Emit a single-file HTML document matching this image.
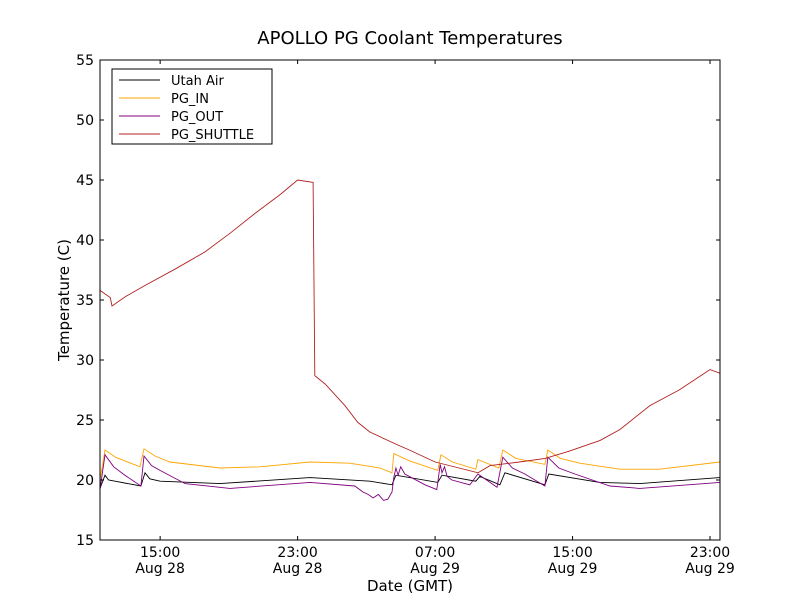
<!DOCTYPE html>
<html><head><meta charset="utf-8"><style>
body{margin:0;background:#fff;}
svg text{font-family:"DejaVu Sans","Liberation Sans",sans-serif;fill:#000;}
</style></head><body>
<svg id="chart" width="800" height="600" viewBox="0 0 800 600">
<rect width="800" height="600" fill="#fff"/>
<text x="410" y="44" font-size="18" text-anchor="middle">APOLLO PG Coolant Temperatures</text>
<g id="plot"></g>
<g id="axes"></g>
<text x="410" y="591" font-size="15" text-anchor="middle">Date (GMT)</text>
<text transform="translate(69,300) rotate(-90)" font-size="15" text-anchor="middle">Temperature (C)</text>
<g id="legend"></g>
</svg>
<script>
const seriesNames=["Utah Air","PG_IN","PG_OUT","PG_SHUTTLE"];
const seriesColors=["#000000","#ffa500","#800080","#b22222"];
const yTicks=[15,20,25,30,35,40,45,50,55];
const xTickHours=[15,23,31,39,47];
const xTickTimes=["15:00","23:00","07:00","15:00","23:00"];
const xTickDates=["Aug 28","Aug 28","Aug 29","Aug 29","Aug 29"];
const airT=[11.5,11.79,12.0,12.37,13.88,14.12,14.4,15.0,18.48,23.72,27.21,28.49,28.72,31.16,31.4,33.37,33.6,34.77,35.06,37.39,37.62,40.59,42.91,47.57];
const airV=[19.3,20.4,20.0,19.9,19.5,20.6,20.1,19.9,19.7,20.2,19.9,19.6,20.4,19.8,20.4,19.9,20.3,19.6,20.6,19.6,20.5,19.8,19.7,20.2];
const inT=[11.5,11.79,12.4,13.83,14.06,14.7,15.57,18.48,20.81,23.72,26.04,27.79,28.49,28.6,29.5,31.16,31.34,32.0,33.37,33.49,34.71,34.94,35.7,37.39,37.56,38.3,39.42,41.75,44.08,47.57];
const inV=[20.0,22.5,21.9,21.1,22.6,22.0,21.5,21.0,21.1,21.5,21.4,21.0,20.6,22.2,21.6,20.8,22.1,21.5,20.9,21.7,21.0,22.5,21.8,21.3,22.5,21.8,21.4,20.9,20.9,21.5];
const outT=[11.5,11.79,12.3,12.95,13.88,14.06,14.5,14.99,16.45,19.06,23.72,26.33,26.8,27.1,27.4,27.7,28.0,28.25,28.49,28.6,28.72,28.85,29.0,29.24,30.41,31.1,31.3,31.4,31.55,31.7,31.98,33.02,33.49,34.6,34.94,35.5,36.22,37.39,37.56,38.2,39.13,41.17,42.91,47.57];
const outV=[19.2,22.1,21.1,20.4,19.5,22.0,21.2,20.8,19.7,19.3,19.8,19.5,19.0,18.8,18.5,18.8,18.3,18.4,19.0,20.2,21.0,20.4,21.1,20.5,19.6,19.2,21.3,20.6,21.1,20.3,20.0,19.6,20.5,19.4,21.9,21.0,20.5,19.5,21.9,21.0,20.5,19.5,19.3,19.8];
const shT=[11.5,12.1,12.2,13.0,14.1,15.9,17.6,19.1,20.5,22.0,23.0,23.9,24.0,24.6,25.75,26.5,27.2,28.7,29.5,31.0,32.4,33.5,34.2,35.9,37.4,38.8,40.6,41.75,43.5,45.2,47.0,47.57];
const shV=[35.8,35.2,34.5,35.3,36.2,37.6,39.0,40.6,42.2,43.8,45.0,44.8,28.7,28.0,26.2,24.8,24.0,23.0,22.5,21.5,21.0,20.6,21.2,21.5,21.8,22.4,23.3,24.2,26.2,27.5,29.2,28.9];
const X0=100,X1=720,Y0=60,Y1=540,HMIN=11.5,HMAX=47.58,VMIN=15,VMAX=55;
const xs=h=>X0+(h-HMIN)/(HMAX-HMIN)*(X1-X0);
const ys=v=>Y1-(v-VMIN)/(VMAX-VMIN)*(Y1-Y0);
const NS="http://www.w3.org/2000/svg";
function mk(tag,attrs,parent){const e=document.createElementNS(NS,tag);for(const k in attrs)e.setAttribute(k,attrs[k]);parent.appendChild(e);return e;}
const plot=document.getElementById('plot'),axes=document.getElementById('axes'),legend=document.getElementById('legend');
const data=[[airT,airV],[inT,inV],[outT,outV],[shT,shV]];
const lineNames=['utah-air-line','pg-in-line','pg-out-line','pg-shuttle-line'];
data.forEach((d,i)=>{
 const pts=d[0].map((t,j)=>xs(t).toFixed(1)+','+ys(d[1][j]).toFixed(1)).join(' ');
 const p=mk('polyline',{points:pts,fill:'none',stroke:seriesColors[i],'stroke-width':0.9},plot);
 
 
});
const frame=mk('rect',{x:X0,y:Y0,width:X1-X0,height:Y1-Y0,fill:'none',stroke:'#000','stroke-width':1},axes);


yTicks.forEach(v=>{
 const y=ys(v);
 mk('line',{x1:X0,x2:X0+4,y1:y,y2:y,stroke:'#000'},axes);
 mk('line',{x1:X1,x2:X1-4,y1:y,y2:y,stroke:'#000'},axes);
 const t=mk('text',{x:X0-6,y:y+5,'font-size':14,'text-anchor':'end'},axes);
 t.textContent=v;
 
 
});
xTickHours.forEach((h,i)=>{
 const x=xs(h);
 mk('line',{x1:x,x2:x,y1:Y1,y2:Y1-4,stroke:'#000'},axes);
 mk('line',{x1:x,x2:x,y1:Y0,y2:Y0+4,stroke:'#000'},axes);
 const t=mk('text',{x:x,y:557,'font-size':14,'text-anchor':'middle'},axes);
 t.textContent=xTickTimes[i];
 
 
 const t2=mk('text',{x:x,y:573,'font-size':14,'text-anchor':'middle'},axes);
 t2.textContent=xTickDates[i];
 
 
});
const lb=mk('rect',{x:112,y:69,width:160,height:75,fill:'#fff',stroke:'#000','stroke-width':1},legend);


seriesNames.forEach((n,i)=>{
 const y=80+i*18;
 const g=mk('g',{},legend);
 
 
 mk('line',{x1:119,x2:160,y1:y,y2:y,stroke:seriesColors[i],'stroke-width':0.9},g);
 const t=mk('text',{x:171,y:y+5,'font-size':13},g);
 t.textContent=n;
});
</script>
</body></html>
